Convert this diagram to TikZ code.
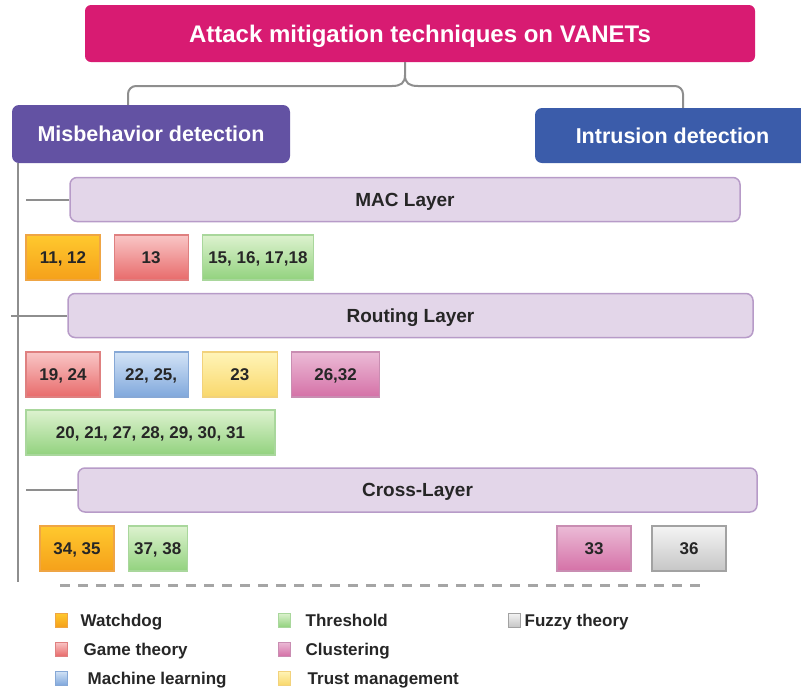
\documentclass[tikz,border=0pt]{standalone}
\usepackage{fontspec}
\setmainfont{Liberation Sans}
\usetikzlibrary{positioning}
\definecolor{titlebg}{HTML}{D81B72}
\definecolor{misbg}{HTML}{6352A3}
\definecolor{intrbg}{HTML}{3B5CAA}
\definecolor{layerbg}{HTML}{E3D6E9}
\definecolor{layerborder}{HTML}{B79BC8}
\definecolor{linkgray}{HTML}{8E8E8E}
\definecolor{textcolor}{HTML}{262626}
\definecolor{wdogtop}{HTML}{FFC92E}
\definecolor{wdogbot}{HTML}{F5A01A}
\definecolor{wdogborder}{HTML}{EFA544}
\definecolor{gametop}{HTML}{F9C6C6}
\definecolor{gamebot}{HTML}{E86B6B}
\definecolor{gameborder}{HTML}{DF8080}
\definecolor{threshtop}{HTML}{DDF2CF}
\definecolor{threshbot}{HTML}{92D27E}
\definecolor{threshborder}{HTML}{A9D79C}
\definecolor{mltop}{HTML}{D3E3F6}
\definecolor{mlbot}{HTML}{80A8DC}
\definecolor{mlborder}{HTML}{86A8D6}
\definecolor{trusttop}{HTML}{FFF4B8}
\definecolor{trustbot}{HTML}{F9D86C}
\definecolor{trustborder}{HTML}{F2D27C}
\definecolor{clustop}{HTML}{EBBBD6}
\definecolor{clusbot}{HTML}{D571A7}
\definecolor{clusborder}{HTML}{C98DB2}
\definecolor{fuzztop}{HTML}{F4F4F4}
\definecolor{fuzzbot}{HTML}{C6C6C6}
\definecolor{fuzzborder}{HTML}{A2A2A2}
\tikzset{
  topbox/.style={
    fill=titlebg,
    rounded corners=6pt,
    text=white,
    font=\bfseries\fontsize{24}{27}\selectfont,
    text height=19pt,
    text depth=1.8pt,
    minimum width=670pt,
    minimum height=57pt
  },
  headbox/.style={
    rounded corners=7pt,
    text=white,
    font=\bfseries\fontsize{21.5}{24}\selectfont,
    text height=17pt,
    text depth=1.6pt
  },
  layerbox/.style={
    draw=layerborder,
    fill=layerbg,
    line width=1.5pt,
    rounded corners=7pt,
    text=textcolor,
    font=\bfseries\fontsize{19}{22}\selectfont,
    text height=15pt,
    text depth=1.4pt,
    minimum height=44pt
  },
  refbox/.style={
    line width=1.2pt,
    text=textcolor,
    font=\bfseries\fontsize{17}{19}\selectfont,
    text height=13pt,
    text depth=1pt,
    minimum width=74pt,
    minimum height=45pt,
    inner sep=2pt
  },
  wdog/.style={refbox, draw=wdogborder, top color=wdogtop, bottom color=wdogbot},
  game/.style={refbox, draw=gameborder, top color=gametop, bottom color=gamebot},
  thresh/.style={refbox, draw=threshborder, top color=threshtop, bottom color=threshbot},
  mlearn/.style={refbox, draw=mlborder, top color=mltop, bottom color=mlbot},
  trust/.style={refbox, draw=trustborder, top color=trusttop, bottom color=trustbot},
  clus/.style={refbox, draw=clusborder, top color=clustop, bottom color=clusbot},
  fuzz/.style={refbox, draw=fuzzborder, top color=fuzztop, bottom color=fuzzbot},
  keybox/.style={minimum width=12pt, minimum height=14pt, inner sep=0pt, line width=1pt},
  keytext/.style={
    anchor=west,
    inner sep=0pt,
    text=textcolor,
    font=\bfseries\fontsize{17}{20}\selectfont,
    text height=13.5pt,
    text depth=1pt
  },
  linkline/.style={draw=linkgray, line width=2pt},
  sepline/.style={draw=linkgray!80, line width=3pt, dash pattern=on 10pt off 8pt}
}
\begin{document}
\begin{tikzpicture}[x=1pt, y=-1pt, node distance=13pt]
  \useasboundingbox (0,0) rectangle (801,689);

  % Top levels
  \node (title) [topbox] at (420,33.5) {Attack mitigation techniques on VANETs};
  \node (misb) [headbox, fill=misbg, minimum width=278pt, minimum height=58pt] at (151,134) {Misbehavior detection};
  \node (intr) [headbox, fill=intrbg, minimum width=275pt, minimum height=55pt] at (672.5,135.5) {Intrusion detection};

  % Layers
  \node (mac) [layerbox, minimum width=670pt] at (405,199.5) {MAC Layer};
  \node (rout) [layerbox, minimum width=685pt] at (410.5,315.5) {Routing Layer};
  \node (cross) [layerbox, minimum width=679pt] at (417.5,490) {Cross-Layer};

  % References, MAC layer
  \node (m1) [wdog] at (63,257.5) {11, 12};
  \node (m2) [game, right=of m1] {13};
  \node (m3) [thresh, right=of m2, minimum width=111pt] {15, 16, 17,18};

  % References, routing layer
  \node (r1) [game] at (63,374.5) {19, 24};
  \node (r2) [mlearn, right=of r1] {22, 25,};
  \node (r3) [trust, right=of r2, minimum width=75pt] {23};
  \node (r4) [clus, right=of r3, minimum width=88pt] {26,32};
  \node (r5) [thresh, minimum width=249pt] at (150.5,432.5) {20, 21, 27, 28, 29, 30, 31};

  % References, cross-layer
  \node (c1) [wdog] at (77,548.5) {34, 35};
  \node (c2) [thresh, right=of c1, minimum width=59pt] {37, 38};
  \node (c3) [clus] at (594,548.5) {33};
  \node (c4) [fuzz] at (689,548.5) {36};

  % Connectors
  \coordinate (bc) at (405,86);
  \coordinate (bl) at (128,86);
  \coordinate (br) at (683,86);
  \draw [linkline] (bc |- title.south) -- (405,75) .. controls (405,83) and (401,86) .. (392,86);
  \draw [linkline] (bc |- title.south) ++(0,13) .. controls (405,83) and (409,86) .. (418,86);
  \draw [linkline, rounded corners=8pt] (392,86) -- (bl) -- (bl |- misb.north);
  \draw [linkline, rounded corners=8pt] (418,86) -- (br) -- (br |- intr.north);
  \coordinate (vl) at (18,582);
  \draw [linkline] (vl |- misb.south) -- (vl);
  \draw [linkline] (mac.west) -- ++(-43,0);
  \draw [linkline] (rout.west) -- ++(-56,0);
  \draw [linkline] (cross.west) -- ++(-51,0);

  % Legend
  \coordinate (sepa) at (60,585);
  \coordinate (sepb) at (700,585);
  \draw [sepline] (sepa) -- (sepb);
  \node (k1) [keybox, draw=wdogborder, top color=wdogtop, bottom color=wdogbot] at (61,620) {};
  \node (k2) [keybox, draw=gameborder, top color=gametop, bottom color=gamebot] at (61,649) {};
  \node (k3) [keybox, draw=mlborder, top color=mltop, bottom color=mlbot] at (61,678) {};
  \node (k4) [keybox, draw=threshborder, top color=threshtop, bottom color=threshbot] at (284,620) {};
  \node (k5) [keybox, draw=clusborder, top color=clustop, bottom color=clusbot] at (284,649) {};
  \node (k6) [keybox, draw=trustborder, top color=trusttop, bottom color=trustbot] at (284,678) {};
  \node (k7) [keybox, draw=fuzzborder, top color=fuzztop, bottom color=fuzzbot] at (514,620) {};
  \node (t1) [keytext, right=13pt of k1] {Watchdog};
  \node (t2) [keytext, right=16pt of k2] {Game theory};
  \node (t3) [keytext, right=20pt of k3] {Machine learning};
  \node (t4) [keytext, right=15pt of k4] {Threshold};
  \node (t5) [keytext, right=15pt of k5] {Clustering};
  \node (t6) [keytext, right=17pt of k6] {Trust management};
  \node (t7) [keytext, right=4pt of k7] {Fuzzy theory};

\end{tikzpicture}
\end{document}
